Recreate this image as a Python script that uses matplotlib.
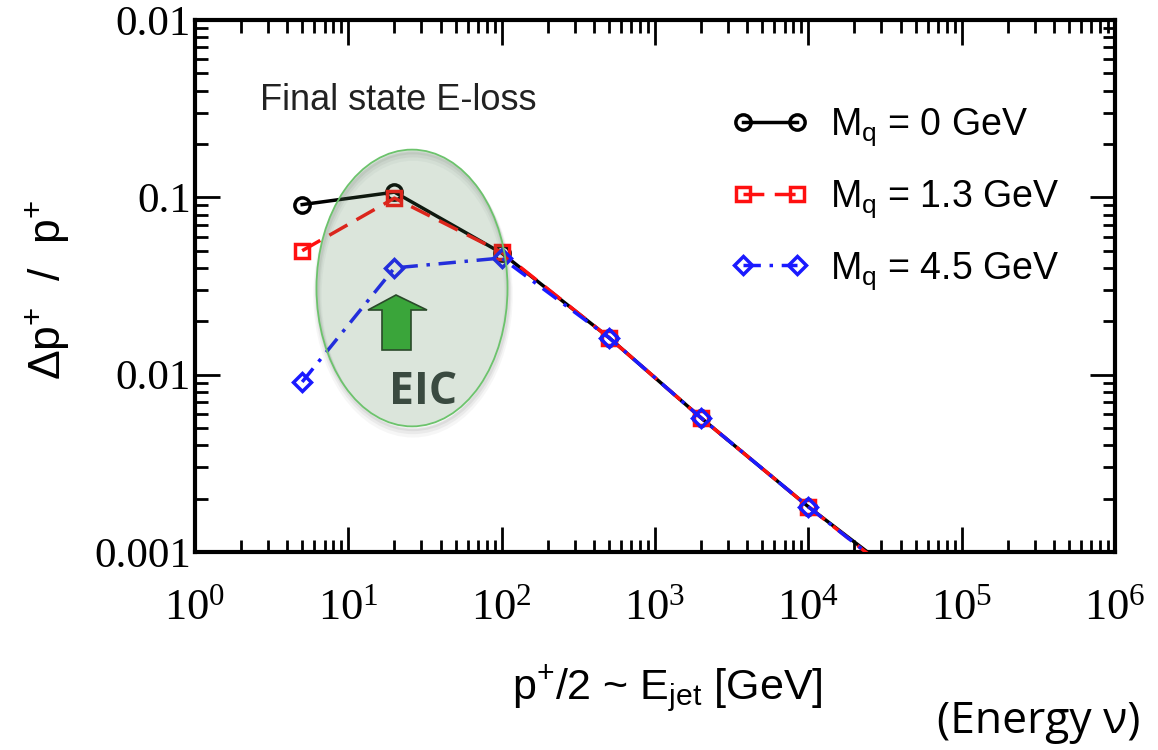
import matplotlib
matplotlib.use("Agg")
import matplotlib.pyplot as plt
from matplotlib.patches import Ellipse, Polygon
from matplotlib.ticker import FixedLocator, FixedFormatter, LogLocator, NullFormatter
import numpy as np

# ---- data ----
energy = [5, 20, 100, 500, 2000, 10000, 50000]
dp_m0 = [0.091, 0.107, 0.0485, 0.0162, 0.0057, 0.0018, 0.00062]
dp_m13 = [0.050, 0.099, 0.049, 0.0162, 0.0057, 0.0018, 0.00060]
dp_m45 = [0.0091, 0.040, 0.0455, 0.0162, 0.0057, 0.0018, 0.00060]
labels = [r"M$_\mathregular{q}$ = 0 GeV", r"M$_\mathregular{q}$ = 1.3 GeV", r"M$_\mathregular{q}$ = 4.5 GeV"]
ytick_vals = [0.001, 0.01, 0.1, 1]
ytick_labels = ["0.001", "0.01", "0.1", "0.01"]
xtick_vals = [1, 10, 100, 1e3, 1e4, 1e5, 1e6]
xtick_labels = [r"$\mathregular{10^{%d}}$" % i for i in range(7)]

plt.rcParams["mathtext.fontset"] = "custom"
plt.rcParams["mathtext.rm"] = "Liberation Sans"

W, H = 1158.0, 750.0
fig = plt.figure(figsize=(11.58, 7.5), dpi=100)
ax = fig.add_axes([195 / W, 1 - 552 / H, 920 / W, 532 / H])
ax.set_xscale("log")
ax.set_yscale("log")
ax.set_xlim(1, 1e6)
ax.set_ylim(0.001, 1)

ax.plot(energy, dp_m0, color="black", lw=2.5, ls="-", marker="o", ms=11,
        mfc="none", mec="black", mew=2.5, label=labels[0], zorder=3)
ax.plot(energy, dp_m13, color="#ff1010", lw=2.5, ls=(0, (6, 3)), marker="s", ms=10,
        mfc="none", mec="#ff1010", mew=2.5, label=labels[1], zorder=4)
ax.plot(energy, dp_m45, color="#1a1aff", lw=2.5, ls=(0, (5, 2.5, 1, 2.5)), marker="D", ms=9,
        mfc="none", mec="#1a1aff", mew=2.5, label=labels[2], zorder=5)

# ticks
ax.yaxis.set_major_locator(FixedLocator(ytick_vals))
ax.yaxis.set_major_formatter(FixedFormatter(ytick_labels))
ax.yaxis.set_minor_locator(LogLocator(base=10, subs=np.arange(2, 10)))
ax.yaxis.set_minor_formatter(NullFormatter())
ax.xaxis.set_major_locator(FixedLocator(xtick_vals))
ax.xaxis.set_major_formatter(FixedFormatter(xtick_labels))
ax.xaxis.set_minor_locator(LogLocator(base=10, subs=np.arange(2, 10)))
ax.xaxis.set_minor_formatter(NullFormatter())
ax.tick_params(which="both", direction="in", top=True, right=True, width=2)
ax.tick_params(which="major", length=18)
ax.tick_params(which="minor", length=9)
ax.tick_params(axis="y", which="major", pad=3)
ax.tick_params(axis="x", which="major", pad=26)
for lab in ax.get_yticklabels():
    lab.set_fontfamily("Liberation Serif")
    lab.set_fontsize(31)
for lab in ax.get_xticklabels():
    lab.set_fontfamily("Liberation Serif")
    lab.set_fontsize(32)
for s in ax.spines.values():
    s.set_linewidth(3)

fig.text(667 / W, 1 - 700 / H, r"p$^\mathregular{+}$/2 ~ E$_\mathregular{jet}$ [GeV]",
         fontfamily="Liberation Sans", fontsize=31, ha="center", va="baseline")
fig.text(47 / W, 1 - 290 / H, r"$\mathregular{\Delta}$p$^\mathregular{+}$  /  p$^\mathregular{+}$",
         fontfamily="Liberation Sans", fontsize=32, ha="center", va="center", rotation=90)

leg = ax.legend(loc="upper left", bbox_to_anchor=((698 - 195) / 920, 1 - (73 - 20) / 532),
                frameon=False, numpoints=2, handlelength=2.04, handletextpad=0.57,
                labelspacing=0.8, prop={"family": "Liberation Sans", "size": 27})

fig.text(260 / W, 1 - 100 / H, "Final state E-loss",
         fontfamily="Liberation Sans", fontsize=26, va="center", ha="left", color="#222222")

# ellipse with soft shadow rim
ctr = (0.3558, 0.616)
ew, eh = 0.165, 0.369
for k, lw, a in [(7, 6, 0.05), (5, 4, 0.07), (3, 2.5, 0.09)]:
    sh = Ellipse((ctr[0] + 1 / W, ctr[1] - k / H), ew, eh, transform=fig.transFigure,
                 facecolor="none", edgecolor="#555555", lw=lw, alpha=a, zorder=6)
    fig.add_artist(sh)
ell = Ellipse(ctr, ew, eh, transform=fig.transFigure,
              facecolor="#4b7f4f", alpha=0.2, edgecolor="none", zorder=7)
fig.add_artist(ell)
ell_edge = Ellipse(ctr, ew, eh, transform=fig.transFigure,
                   facecolor="none", edgecolor="#6cc36c", lw=1.3, zorder=7)
fig.add_artist(ell_edge)

# green arrow
pts = [(382, 350), (411, 350), (411, 310), (427, 310), (396, 295), (368, 310), (382, 310)]
arrow = Polygon([(x / W, 1 - y / H) for x, y in pts], closed=True, transform=fig.transFigure,
                facecolor="#3aa53a", edgecolor="#2a4a2a", lw=1.2, zorder=8)
fig.add_artist(arrow)

fig.text(423 / W, 1 - 393 / H, "EIC", fontfamily="Open Sans", fontweight="bold", fontsize=32,
         color="#3a4a40", ha="center", va="center", zorder=9)

fig.text(1140 / W, 1 - 722 / H, "(Energy ν)", fontfamily="Open Sans", fontsize=32,
         color="black", ha="right", va="center")

fig.savefig("out.png", dpi=100)
